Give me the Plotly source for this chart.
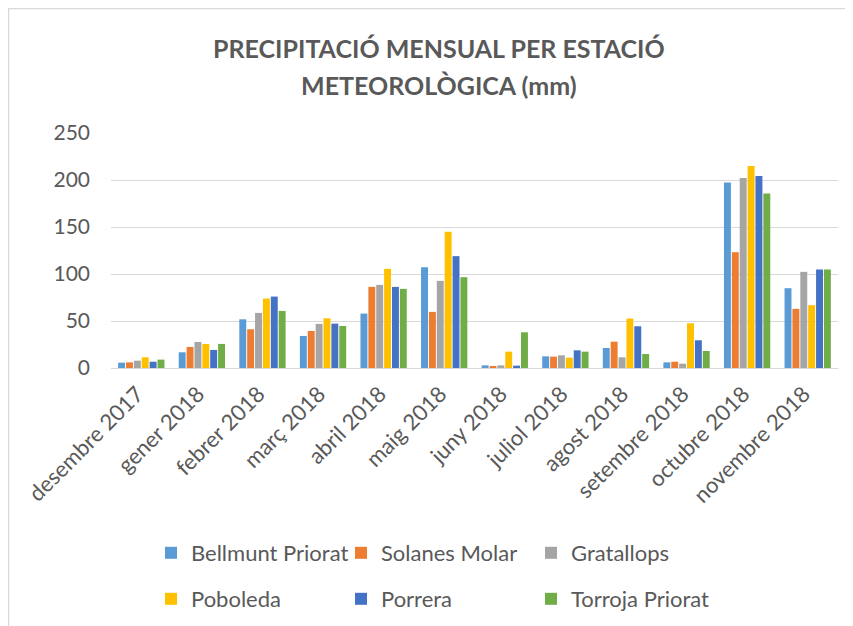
import plotly.graph_objects as go

months = ["desembre 2017", "gener 2018", "febrer 2018", "març 2018", "abril 2018",
          "maig 2018", "juny 2018", "juliol 2018", "agost 2018", "setembre 2018",
          "octubre 2018", "novembre 2018"]

bellmunt = [5.7, 16.7, 51.8, 34.1, 57.9, 107.2, 2.8, 12.4, 21.3, 6.0, 197.4, 84.9]
solanes = [6.0, 22.4, 41.2, 39.4, 86.3, 59.7, 1.8, 12.1, 28.0, 6.7, 123.2, 62.9]
gratallops = [7.8, 27.7, 58.6, 46.9, 88.4, 92.7, 2.8, 13.5, 11.4, 4.6, 202.0, 102.3]
poboleda = [11.4, 25.6, 73.9, 52.9, 105.5, 144.9, 17.4, 11.0, 52.6, 47.6, 214.8, 66.8]
porrera = [6.7, 19.2, 76.0, 47.2, 86.3, 119.0, 2.5, 18.8, 44.4, 29.5, 204.2, 104.8]
torroja = [8.9, 25.6, 60.7, 44.7, 84.2, 96.6, 38.0, 17.4, 14.9, 18.1, 185.7, 104.8]

series_names = ["Bellmunt Priorat", "Solanes Molar", "Gratallops",
                "Poboleda", "Porrera", "Torroja Priorat"]
series_values = [bellmunt, solanes, gratallops, poboleda, porrera, torroja]
colors = ["#5B9BD5", "#ED7D31", "#A5A5A5", "#FFC000", "#4472C4", "#70AD47"]
legend_ids = ["legend", "legend", "legend", "legend2", "legend2", "legend2"]

FONT = "Lato, Carlito, Calibri, sans-serif"
GREY = "#595959"

fig = go.Figure()
for name, vals, col, lg in zip(series_names, series_values, colors, legend_ids):
    fig.add_trace(go.Bar(x=months, y=vals, name=name, marker_color=col,
                         marker_line_width=0, legend=lg))

OFF = 8  # page body margin
W, H = 853, 626
# plot area in page pixels: x 111..838, y 133..368
L = 111 - OFF
R = W - (838 - OFF)
T = 133 - OFF
B = H - (368 - OFF)
ph = H - T - B
pw = W - L - R

def py(pix):
    return (368 - pix) / ph

def px(pix):
    return (pix - 111) / pw

legend_common = dict(orientation="h", entrywidth=145, entrywidthmode="pixels",
                     font=dict(family=FONT, size=22, color=GREY),
                     bgcolor="rgba(0,0,0,0)", xanchor="left", yanchor="middle",
                     itemclick=False)

fig.update_layout(
    width=W, height=H,
    margin=dict(l=L, r=R, t=T, b=B, autoexpand=False),
    paper_bgcolor="white", plot_bgcolor="white",
    font=dict(family=FONT, color=GREY),
    barmode="group", bargap=0.22, bargroupgap=0.12,
    showlegend=True,
    legend=dict(x=px(151), y=py(553), **legend_common),
    legend2=dict(x=px(151), y=py(599), **legend_common),
    xaxis=dict(tickangle=-45, tickfont=dict(family=FONT, size=22, color=GREY),
               showgrid=False, showline=False, ticks="", automargin=False,
               ticklabelstandoff=8, ticklabelshift=-4),
    yaxis=dict(range=[0, 250], dtick=50, tickfont=dict(family=FONT, size=21, color=GREY),
               gridcolor="#D9D9D9", gridwidth=1, zeroline=True, zerolinecolor="#D9D9D9",
               zerolinewidth=1, showline=False, ticks="", ticklabelstandoff=20,
               automargin=False),
    annotations=[
        dict(text="<b>PRECIPITACIÓ MENSUAL PER ESTACIÓ</b>", xref="paper", yref="paper",
             x=px(438.5), y=py(48), xanchor="center", yanchor="middle", showarrow=False,
             font=dict(family=FONT, size=25, color=GREY)),
        dict(text="<b>METEOROLÒGICA (mm)</b>", xref="paper", yref="paper",
             x=px(438.5), y=py(85), xanchor="center", yanchor="middle", showarrow=False,
             font=dict(family=FONT, size=25, color=GREY)),
    ],
    shapes=[dict(type="rect", xref="paper", yref="paper",
                 x0=px(8.5), x1=px(900), y0=py(700), y1=py(8.5),
                 line=dict(color="#D9D9D9", width=1.5), layer="below")],
)

fig.write_html("out.html")
